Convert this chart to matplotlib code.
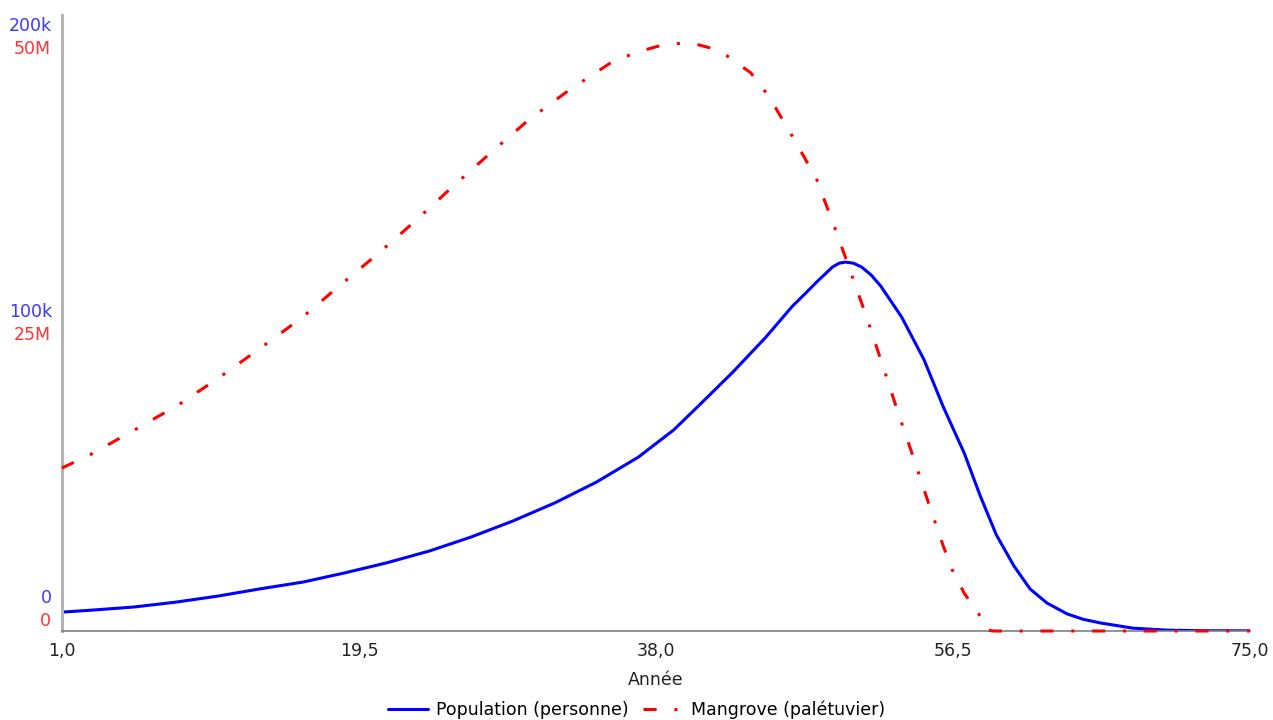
import matplotlib.pyplot as plt
import numpy as np

plt.rcParams['font.family'] = ['DejaVu Sans']

# Population (personnes)
annees_pop = [1.0, 2.87, 5.5, 8.1, 10.7, 13.3, 16.0, 18.6, 21.2, 23.9, 26.5, 29.1,
              31.7, 34.3, 36.9, 39.1, 40.7, 42.8, 44.85, 46.5, 47.3, 48.0, 49.0, 49.4,
              49.8, 50.3, 50.8, 51.4, 52.0, 53.3, 54.7, 55.9, 57.2, 58.2, 59.2, 60.3,
              61.3, 62.35, 63.6, 64.6, 65.7, 67.7, 69.8, 72.0, 75.0]
population = [6.6e3, 7.3e3, 8.4e3, 10.1e3, 12.2e3, 14.7e3, 17.1e3, 20.3e3, 23.8e3, 28.0e3,
              32.9e3, 38.5e3, 44.8e3, 52.1e3, 60.8e3, 70.3e3, 79.0e3, 90.6e3, 102.8e3,
              113.6e3, 118.0e3, 122.0e3, 127.3e3, 128.6e3, 129.0e3, 128.6e3, 127.3e3,
              124.5e3, 120.6e3, 109.8e3, 94.8e3, 78.3e3, 62.2e3, 47.2e3, 33.6e3, 22.7e3,
              14.7e3, 9.8e3, 6.0e3, 4.1e3, 2.8e3, 1.0e3, 0.3e3, 0.1e3, 0.05e3]

# Mangrove (palétuviers)
annees_mang = [1.0, 2.74, 5.55, 8.29, 10.84, 13.33, 15.95, 18.3, 20.7, 23.05, 25.3, 27.7,
               30.0, 32.5, 35.1, 36.6, 38.06, 39.6, 40.5, 41.3, 42.4, 43.9, 45.0, 46.6,
               48.0, 49.15, 50.2, 51.2, 52.1, 53.1, 54.1, 54.9, 55.9, 56.5, 57.2, 58.1,
               58.6, 59.0, 75.0]
mangrove = [14.25e6, 15.4e6, 17.6e6, 19.8e6, 22.2e6, 24.7e6, 27.4e6, 30.2e6, 33.0e6,
            35.9e6, 38.8e6, 41.8e6, 44.6e6, 47.2e6, 49.6e6, 50.5e6, 51.1e6, 51.4e6,
            51.3e6, 51.0e6, 50.3e6, 48.8e6, 46.8e6, 43.0e6, 39.5e6, 35.2e6, 31.1e6,
            27.1e6, 23.3e6, 19.0e6, 14.9e6, 11.5e6, 7.4e6, 5.2e6, 3.3e6, 1.5e6,
            0.1e6, 0.0, 0.0]

xticks = [1.0, 19.5, 38.0, 56.5, 75.0]
xlabels = ['1,0', '19,5', '38,0', '56,5', '75,0']
pop_ticks = [0, 100e3, 200e3]
pop_labels = ['0', '100k', '200k']
mang_ticks = [0, 25e6, 50e6]
mang_labels = ['0', '25M', '50M']

fig = plt.figure(figsize=(12.73, 7.2), dpi=100)
ax = fig.add_axes([62/1273, 89/720, 1188/1273, 616/720])
ax2 = ax.twinx()

l1, = ax.plot(annees_pop, population, color='#0000ff', lw=2.2,
              solid_capstyle='round', solid_joinstyle='round',
              label='Population (personne)')
l2, = ax2.plot(annees_mang, mangrove, color='#ff0000', lw=2.2,
               dashes=(4.3, 5.8, 1, 5.8), clip_on=False,
               label='Mangrove (palétuvier)')

ax.set_xlim(1, 75)
ax.set_ylim(0, 215.4e3)
ax2.set_ylim(0, 53.85e6)

for s in ['top', 'right']:
    ax.spines[s].set_visible(False)
for s in ax2.spines.values():
    s.set_visible(False)
ax.spines['left'].set_color('#b4b4b4')
ax.spines['left'].set_linewidth(2.2)
ax.spines['bottom'].set_color('#808080')
ax.spines['bottom'].set_linewidth(1.2)

fs = 12.5
ax.set_xticks(xticks)
ax.set_xticklabels(xlabels, fontsize=fs, color='#222222')
ax.tick_params(axis='x', length=0, pad=8)
ax.set_yticks([])
ax2.set_yticks([])

# étiquettes des deux axes y empilées à gauche
for v, t in zip(pop_ticks, pop_labels):
    ax.annotate(t, xy=(0, v), xycoords=('axes fraction', 'data'),
                xytext=(-10, 33), textcoords='offset pixels',
                ha='right', va='center', fontsize=fs, color='#3a3aff')
for v, t in zip(mang_ticks, mang_labels):
    ax2.annotate(t, xy=(0, v), xycoords=('axes fraction', 'data'),
                 xytext=(-11, 10), textcoords='offset pixels',
                 ha='right', va='center', fontsize=fs, color='#ff3333')

ax.set_xlabel('Année', fontsize=fs, color='#222222', labelpad=8)

fig.legend(handles=[l1, l2], loc='center', bbox_to_anchor=(0.5, 1 - 710/720),
           ncol=2, frameon=False, fontsize=fs, handlelength=2.3,
           handletextpad=0.5, columnspacing=0.8)

plt.savefig('out.png', dpi=100)
